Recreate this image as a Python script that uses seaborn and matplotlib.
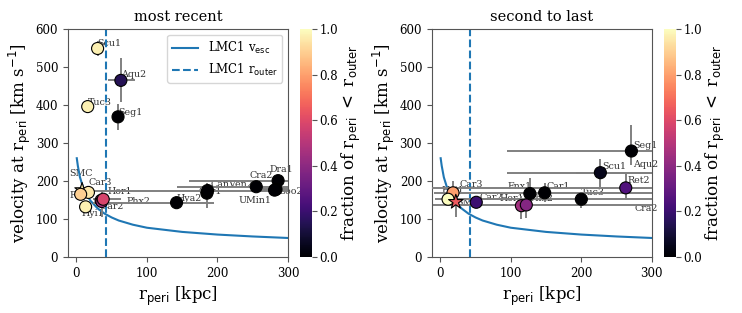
import numpy as np
import matplotlib
matplotlib.use("Agg")
import matplotlib.pyplot as plt
import seaborn as sns
import pandas as pd

# --- escape velocity curve ---
r_esc = [0.5, 2, 5, 10, 15, 20, 30, 40, 50, 60, 80, 100, 150, 200, 250, 300]
v_esc = [260, 240, 210, 180, 162, 148, 128, 114, 104, 96, 85, 77, 66, 59, 54, 50]
r_outer = 42

# --- most recent pericenter ---
names_recent = ['Scu1', 'Aqu2', 'Tuc3', 'Seg1', 'SMC', 'Car3', 'Ret2', 'Hyi1', 'Phx2',
                'Car2', 'Hor1', 'Hya2', 'Car1', 'CanVen2', 'Cra2', 'Dra1', 'UMin1', 'Boo2']
r_recent = [30, 63, 16, 59, 8, 17, 6, 13, 35, 36, 38, 142, 185, 186, 255, 286, 283, 281]
v_recent = [549, 465, 396, 369, 176, 170, 165, 132, 149, 146, 152, 143, 168, 175, 185, 201, 178, 176]
r_lo_recent = [3, 18, 2, 5, 2, 10, 2, 3, 5, 3, 15, 119, 5, 178, 112, 126, 20, 15]
r_hi_recent = [3, 20, 2, 5, 2, 10, 2, 3, 5, 3, 25, 53, 5, 150, 80, 50, 30, 25]
v_lo_recent = [20, 58, 8, 35, 5, 10, 5, 8, 10, 40, 10, 8, 40, 8, 10, 10, 10, 10]
v_hi_recent = [20, 60, 8, 35, 5, 10, 5, 8, 10, 30, 10, 8, 27, 8, 10, 10, 10, 10]
f_recent = [0.97, 0.15, 0.97, 0.0, 0.97, 0.95, 0.9, 0.97, 0.5, 0.45, 0.58, 0.0, 0.0,
            0.0, 0.0, 0.0, 0.0, 0.0]

# --- second to last pericenter ---
names_prev = ['Seg1', 'Scu1', 'Aqu2', 'Ret2', 'Car1', 'Fnx1', 'Tuc3', 'Hor1', 'Phx2',
              'Cra2', 'Car2', 'Car3', 'Hyi1', 'SMC']
r_prev = [271, 227, 330, 263, 148, 127, 200, 115, 122, 330, 51, 18, 11, 22]
v_prev = [279, 222, 222, 182, 169, 167, 152, 135, 137, 137, 144, 169, 152, 145]
r_lo_prev = [176, 132, 138, 275, 157, 5, 208, 5, 5, 340, 5, 5, 3, 5]
r_hi_prev = [60, 100, 50, 60, 160, 5, 120, 5, 5, 50, 5, 5, 3, 5]
v_lo_prev = [37, 37, 30, 32, 23, 25, 23, 35, 35, 10, 8, 30, 8, 40]
v_hi_prev = [68, 36, 30, 42, 26, 41, 20, 25, 25, 10, 8, 30, 8, 10]
f_prev = [0.0, 0.05, 0.1, 0.25, 0.0, 0.0, 0.0, 0.45, 0.38, 0.0, 0.2, 0.8, 1.0, 0.65]

# label offsets in points
offs_recent = {'Scu1': (0, 0), 'Aqu2': (0, 1), 'Tuc3': (0, 0), 'Seg1': (0, 0),
               'SMC': (-9, 9), 'Car3': (0, 4), 'Ret2': (-8, -4), 'Hyi1': (-3, -8),
               'Phx2': (18, -4), 'Car2': (-1, -7), 'Hor1': (3, 2), 'Hya2': (0, 0),
               'Car1': (-6, -2), 'CanVen2': (2, 1), 'Cra2': (-5, 5), 'Dra1': (-6, 5),
               'UMin1': (-27, -11), 'Boo2': (3, -4)}
offs_prev = {'Seg1': (1, 1), 'Scu1': (1.5, 1.5), 'Aqu2': (-29, 2.5), 'Ret2': (1, 2),
             'Car1': (1, 1), 'Fnx1': (-16, 1.5), 'Tuc3': (0, 1.5), 'Hor1': (-16, 2),
             'Phx2': (2, 1.5), 'Cra2': (-28, -5.5), 'Car2': (2, 0.5), 'Car3': (5, 2.5),
             'Hyi1': (-5, 3), 'SMC': (0, -4)}

plt.rcParams['font.family'] = ['DejaVu Serif']
plt.rcParams['axes.edgecolor'] = '#555555'
plt.rcParams['xtick.color'] = '#555555'
plt.rcParams['ytick.color'] = '#555555'
plt.rcParams['xtick.labelcolor'] = 'black'
plt.rcParams['ytick.labelcolor'] = 'black'

cmap = plt.get_cmap('magma')
norm = plt.Normalize(0, 1)


def panel(ax, cax, names, r, v, rlo, rhi, vlo, vhi, frac, offs, title, legend):
    df = pd.DataFrame({'name': names, 'r': r, 'v': v, 'frac': frac})
    df['kind'] = np.where(df['name'] == 'SMC', 'star', 'dwarf')

    sns.lineplot(x=r_esc, y=v_esc, ax=ax, color='#1f77b4', lw=1.5,
                 label=r'LMC1 v$_{\rm esc}$', zorder=2)
    ax.axvline(r_outer, color='#1f77b4', ls='--', lw=1.5,
               label=r'LMC1 r$_{\rm outer}$', zorder=2)

    ax.errorbar(r, v, xerr=[rlo, rhi], yerr=[vlo, vhi], fmt='none',
                ecolor='gray', elinewidth=1.4, zorder=3)
    sns.scatterplot(data=df, x='r', y='v', hue='frac', palette='magma', hue_norm=norm,
                    style='kind', markers={'dwarf': 'o', 'star': '*'},
                    size='kind', sizes={'dwarf': 75, 'star': 120},
                    edgecolor='black', linewidth=0.8, legend=False, ax=ax,
                    zorder=4)

    for n, x, y in zip(names, r, v):
        ax.annotate(n, (x, y), xytext=offs[n], textcoords='offset points',
                    fontsize=6.8, color='#333333', ha='left', va='bottom',
                    zorder=1, annotation_clip=False)

    ax.set_xlim(-12, 300)
    ax.set_ylim(0, 600)
    ax.set_xticks([0, 100, 200, 300])
    ax.tick_params(labelsize=8.5)
    ax.set_xlabel(r'r$_{\rm peri}$ [kpc]', fontsize=12)
    ax.set_ylabel(r'velocity at r$_{\rm peri}$ [km s$^{-1}$]', fontsize=12, labelpad=2)
    ax.set_title(title, fontsize=10.5)
    if legend:
        ax.legend(loc='upper right', fontsize=8.5, handlelength=2.2)
    elif ax.get_legend() is not None:
        ax.get_legend().remove()

    sm = plt.cm.ScalarMappable(norm=norm, cmap=cmap)
    cb = plt.colorbar(sm, cax=cax)
    cb.set_ticks([0, 0.2, 0.4, 0.6, 0.8, 1.0])
    cb.ax.tick_params(labelsize=8.5, pad=2)
    cb.outline.set_visible(False)
    cb.set_label(r'fraction of r$_{\rm peri}$ $<$ r$_{\rm outer}$', fontsize=12, labelpad=1)


fig = plt.figure(figsize=(7.42, 3.13), dpi=100)
ax1 = fig.add_axes([0.0916, 0.179, 0.2965, 0.728])
cax1 = fig.add_axes([0.404, 0.179, 0.016, 0.728])
ax2 = fig.add_axes([0.582, 0.179, 0.2965, 0.728])
cax2 = fig.add_axes([0.895, 0.179, 0.016, 0.728])

panel(ax1, cax1, names_recent, r_recent, v_recent, r_lo_recent, r_hi_recent,
      v_lo_recent, v_hi_recent, f_recent, offs_recent, 'most recent', True)
panel(ax2, cax2, names_prev, r_prev, v_prev, r_lo_prev, r_hi_prev,
      v_lo_prev, v_hi_prev, f_prev, offs_prev, 'second to last', False)

fig.savefig('out.png', dpi=100)
